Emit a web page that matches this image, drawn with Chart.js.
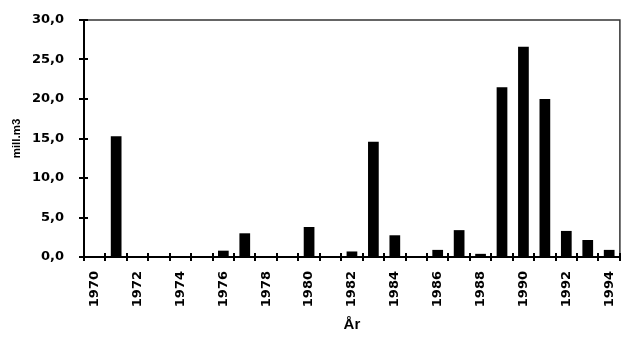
<!DOCTYPE html>
<html>
<head>
<meta charset="utf-8">
<script src="https://cdn.jsdelivr.net/npm/chart.js@4.4.1/dist/chart.umd.min.js"></script>
<style>
  html, body { margin: 0; padding: 0; background: #fff; }
  #wrap { width: 631px; height: 347px; position: relative; }
</style>
</head>
<body>
<div id="wrap"><canvas id="c" width="631" height="347"></canvas></div>
<script>
const years = ['1970','1971','1972','1973','1974','1975','1976','1977','1978','1979','1980','1981','1982',
               '1983','1984','1985','1986','1987','1988','1989','1990','1991','1992','1993','1994'];
const volumes = [0, 15.3, 0, 0, 0.1, 0, 0.8, 3.0, 0.1, 0, 3.8, 0.1, 0.7,
                 14.6, 2.75, 0, 0.9, 3.4, 0.4, 21.5, 26.6, 20.0, 3.3, 2.15, 0.9];
const yTitle = 'mill.m3';
const xTitle = 'År';

const frame = {
  id: 'frame',
  afterDraw(chart) {
    const ctx = chart.ctx, a = chart.chartArea;
    const xs = chart.scales.x, ys = chart.scales.y;
    ctx.save();
    ctx.strokeStyle = '#333';
    ctx.lineWidth = 1.5;
    ctx.beginPath();
    ctx.moveTo(a.left, a.top); ctx.lineTo(a.right, a.top); ctx.lineTo(a.right, a.bottom);
    ctx.stroke();
    ctx.strokeStyle = '#000';
    ctx.lineWidth = 2;
    ctx.beginPath();
    ctx.moveTo(a.left, a.top); ctx.lineTo(a.left, a.bottom); ctx.lineTo(a.right, a.bottom);
    ctx.stroke();
    // tick marks crossing the axes
    ctx.lineWidth = 2;
    ctx.beginPath();
    for (let i = 0; i <= years.length; i++) {
      const x = Math.round(xs.getPixelForValue(i - 0.5));
      ctx.moveTo(x, a.bottom + 4); ctx.lineTo(x, a.bottom - 4);
    }
    ys.ticks.forEach(t => {
      const y = Math.round(ys.getPixelForValue(t.value));
      ctx.moveTo(a.left - 5, y); ctx.lineTo(a.left + 4, y);
    });
    ctx.stroke();
    ctx.restore();
  }
};

new Chart(document.getElementById('c'), {
  type: 'bar',
  data: {
    labels: years,
    datasets: [{
      data: volumes,
      backgroundColor: '#000',
      borderWidth: 0,
      barPercentage: 0.5,
      categoryPercentage: 1.0
    }]
  },
  options: {
    responsive: false,
    animation: false,
    layout: { padding: { top: 20, right: 11, left: 0, bottom: 0 } },
    plugins: { legend: { display: false }, tooltip: { enabled: false } },
    scales: {
      x: {
        afterFit(s) { s.height = 90; },
        offset: true,
        grid: { display: false },
        border: { display: false },
        ticks: {
          autoSkip: false, maxRotation: 90, minRotation: 90, padding: 6,
          color: '#000',
          font: { family: 'DejaVu Sans', weight: 'bold', size: 13 },
          callback: (v, i) => (i % 2 === 0 ? years[i] : '')
        },
        title: {
          display: true, text: xTitle, color: '#000',
          font: { family: 'Liberation Sans', weight: 'bold', size: 15 },
          padding: { top: 0, bottom: 13 }
        }
      },
      y: {
        afterFit(s) { s.width = 84; },
        min: 0, max: 30,
        grid: { display: false },
        border: { display: false },
        ticks: {
          stepSize: 5, padding: 12, color: '#000',
          font: { family: 'DejaVu Sans', weight: 'bold', size: 13 },
          callback: v => v.toFixed(1).replace('.', ',')
        },
        title: {
          display: true, text: yTitle, color: '#000',
          font: { family: 'Liberation Sans', weight: 'bold', size: 11.5 },
          padding: { top: 10, bottom: 0 }
        }
      }
    }
  },
  plugins: [frame]
});
</script>
</body>
</html>
